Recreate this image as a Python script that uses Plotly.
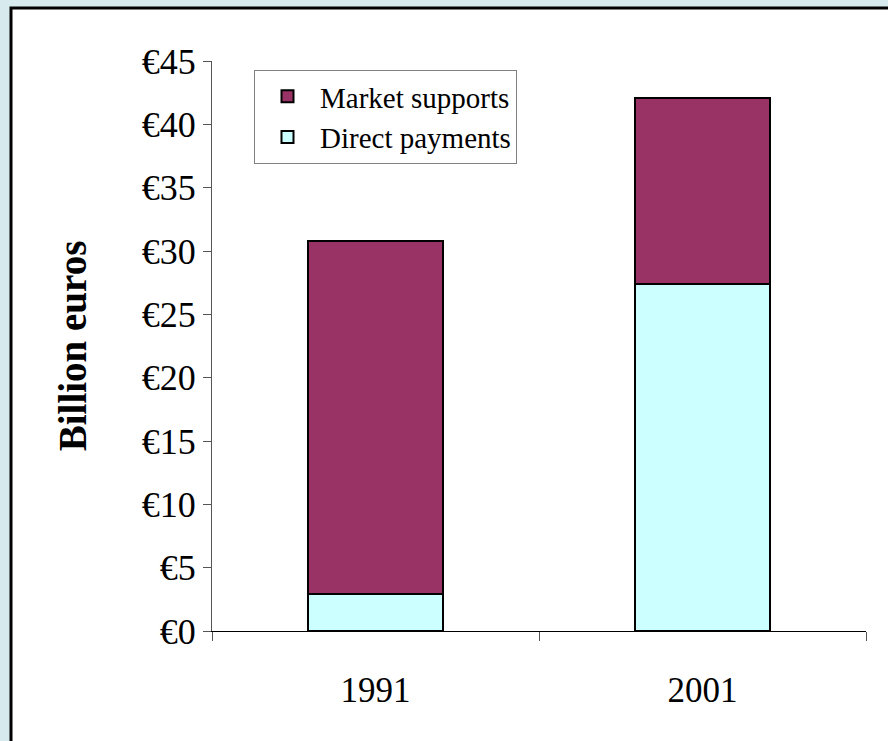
import plotly.graph_objects as go

years = ["1991", "2001"]
direct_payments = [2.9, 27.4]
market_supports = [27.9, 14.7]
y_ticks = [0, 5, 10, 15, 20, 25, 30, 35, 40, 45]
y_tick_labels = ["€" + str(v) for v in y_ticks]

W, H = 888, 741
L, R, T, B = 212, 22, 61, 110
pw, ph = W - L - R, H - T - B

def px_x(p):
    return (p - L) / pw

def px_y(p):
    return (H - B - p) / ph

serif = "Liberation Serif, Times New Roman, serif"

fig = go.Figure()
fig.add_trace(go.Bar(
    x=years, y=direct_payments, name="Direct payments",
    marker=dict(color="#ccffff", line=dict(color="#000000", width=2)),
))
fig.add_trace(go.Bar(
    x=years, y=market_supports, name="Market supports",
    marker=dict(color="#993366", line=dict(color="#000000", width=2)),
))

fig.add_shape(
    type="rect", xref="paper", yref="paper", layer="below",
    x0=px_x(11), x1=px_x(920), y0=px_y(770), y1=px_y(8),
    fillcolor="#ffffff", line=dict(color="#000000", width=3),
)

fig.update_layout(
    width=W, height=H,
    margin=dict(l=L, r=R, t=T, b=B, autoexpand=False),
    paper_bgcolor="#d7ebee",
    plot_bgcolor="rgba(0,0,0,0)",
    barmode="stack",
    bargap=0.59,
    showlegend=True,
    font=dict(family=serif, color="#000000"),
    legend=dict(
        x=px_x(254), y=px_y(70), xanchor="left", yanchor="top",
        traceorder="reversed",
        bgcolor="#ffffff", bordercolor="#808080", borderwidth=1,
        font=dict(family=serif, size=29, color="#000000"),
        itemwidth=55,
    ),
    xaxis=dict(
        type="category",
        showline=True, linecolor="#000000", linewidth=1,
        ticks="outside", tickson="boundaries", ticklen=9, tickcolor="#555555",
        tickfont=dict(family=serif, size=35),
        ticklabelstandoff=28,
        showgrid=False, zeroline=False,
    ),
    yaxis=dict(
        range=[0, 45],
        tickvals=y_ticks, ticktext=y_tick_labels,
        showline=True, linecolor="#555555", linewidth=1,
        ticks="outside", ticklen=8, tickcolor="#555555",
        tickfont=dict(family=serif, size=36),
        showgrid=False, zeroline=False,
        title=dict(text="<b>Billion euros</b>", font=dict(family=serif, size=39), standoff=43),
    ),
)

fig.write_html("out.html")
